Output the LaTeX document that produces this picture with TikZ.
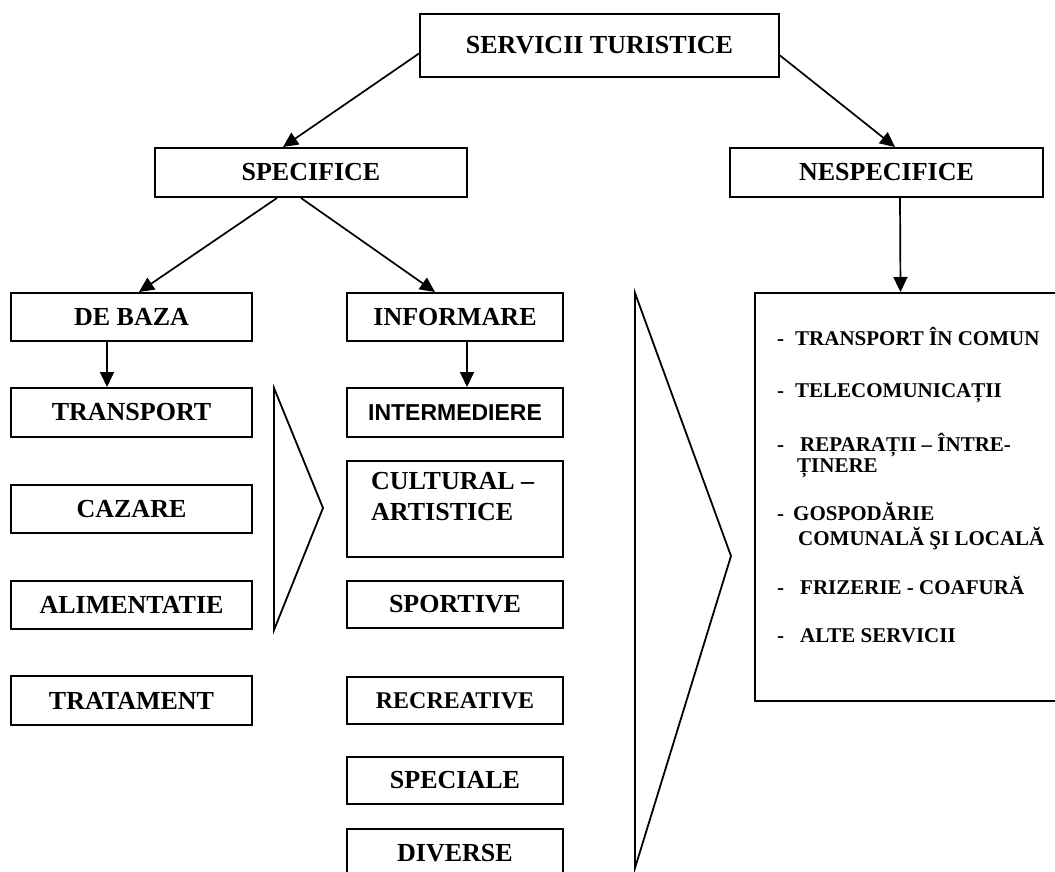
\documentclass[tikz,border=0pt]{standalone}
\usepackage{fontspec}
\setmainfont{Liberation Serif}
\newfontfamily\arialf{Liberation Sans}
\usetikzlibrary{arrows.meta}
\tikzset{
  box/.style={draw, line width=2pt, inner sep=0pt, align=center,
    font=\fontsize{26}{30}\selectfont\bfseries},
  arr/.style={line width=1.7pt, -{Triangle[length=15pt,width=14pt]}},
  brk/.style={line width=1.8pt, line join=miter},
  item/.style={inner sep=0pt, anchor=base west, font=\fontsize{21}{24}\selectfont\bfseries}
}
\begin{document}
\begin{tikzpicture}[x=1pt,y=-1pt]
\useasboundingbox (0,0) rectangle (1055,872);
\clip (0,0) rectangle (1055,872);
% top level
\node[box, minimum width=359pt, minimum height=63pt] (serv) at (599.5,45.5) {SERVICII TURISTICE};
\node[box, minimum width=312pt, minimum height=49pt] (spec) at (311,172.5) {SPECIFICE};
\node[box, minimum width=313pt, minimum height=49pt] (nesp) at (886.5,172.5) {NESPECIFICE};
% left column
\node[box, minimum width=241pt, minimum height=48pt] (debaza) at (131.5,317) {DE BAZA};
\node[box, minimum width=241pt, minimum height=49pt] (transport) at (131.5,412.5) {TRANSPORT};
\node[box, minimum width=241pt, minimum height=48pt] (cazare) at (131.5,509) {CAZARE};
\node[box, minimum width=241pt, minimum height=48pt] (alim) at (131.5,605) {ALIMENTATIE};
\node[box, minimum width=241pt, minimum height=49pt] (trat) at (131.5,700.5) {TRATAMENT};
% middle column
\node[box, minimum width=216pt, minimum height=48pt] (inform) at (455,317) {INFORMARE};
\node[box, minimum width=216pt, minimum height=49pt, font=\fontsize{23}{26}\selectfont\bfseries\arialf] (interm) at (455,412.5) {INTERMEDIERE};
\node[box, minimum width=216pt, minimum height=96pt] (cult) at (455,509) {};
\node[inner sep=0pt, anchor=north west, align=left, font=\fontsize{26}{31}\selectfont\bfseries] (culttext) at (371,472) {CULTURAL --\\ARTISTICE};
\node[box, minimum width=216pt, minimum height=47pt] (sport) at (455,604.5) {SPORTIVE};
\node[box, minimum width=216pt, minimum height=47pt, font=\fontsize{24}{28}\selectfont\bfseries] (recr) at (455,700.5) {RECREATIVE};
\node[box, minimum width=216pt, minimum height=47pt] (speciale) at (455,780.5) {SPECIALE};
\node[box, minimum width=216pt, minimum height=48pt] (diverse) at (455,853) {DIVERSE};
% right box
\node[draw, line width=2pt, minimum width=305pt, minimum height=408pt, inner sep=0pt] (nebox) at (907.5,497) {};
\node[item] (d1) at (777,345) {-};
\node[item] (t1) at (795,345) {TRANSPORT ÎN COMUN};
\node[item] (d2) at (777,397) {-};
\node[item] (t2) at (795,397) {TELECOMUNICAȚII};
\node[item] (d3) at (777,451) {-};
\node[item] (t3) at (800,451) {REPARAȚII – ÎNTRE-};
\node[item] (t3b) at (797,472) {ȚINERE};
\node[item] (d4) at (777,520) {-};
\node[item] (t4) at (793,520) {GOSPODĂRIE};
\node[item] (t4b) at (798,545) {COMUNALĂ ŞI LOCALĂ};
\node[item] (d5) at (777,594) {-};
\node[item] (t5) at (800,594) {FRIZERIE - COAFURĂ};
\node[item] (d6) at (777,642) {-};
\node[item] (t6) at (800,642) {ALTE SERVICII};
% brackets
\coordinate (b1a) at (274,388);
\coordinate (b1b) at (323,508);
\coordinate (b1c) at (274,630);
\draw[brk] (b1a) -- (b1b) -- (b1c) -- cycle;
\coordinate (b2a) at (635,293);
\coordinate (b2b) at (731,556);
\coordinate (b2c) at (635,868);
\draw[brk] (b2a) -- (b2b) -- (b2c) -- cycle;
% connectors
\draw[arr] ([yshift=-8pt]serv.west) -- ([xshift=-28pt]spec.north);
\draw[arr] ([yshift=-10pt]serv.east) -- ([xshift=8.5pt]nesp.north);
\draw[arr] ([xshift=-34pt]spec.south) -- ([xshift=7.5pt]debaza.north);
\draw[arr] ([xshift=-10pt]spec.south) -- ([xshift=-20pt]inform.north);
\draw[arr] ([xshift=-24.5pt]debaza.south) -- ([xshift=-24.5pt]transport.north);
\draw[arr] ([xshift=12pt]inform.south) -- ([xshift=12pt]interm.north);
\draw[arr] ([xshift=13.5pt]nesp.south) -- ([xshift=-7pt]nebox.north);
\end{tikzpicture}
\end{document}
